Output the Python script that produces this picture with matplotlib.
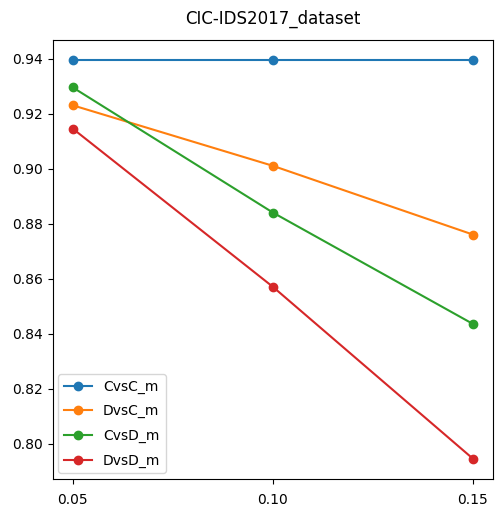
import matplotlib
matplotlib.use('Agg')
import matplotlib.pyplot as plt

ratios = [0.05, 0.10, 0.15]
cvsc_m = [0.9395, 0.9395, 0.9395]
dvsc_m = [0.923, 0.901, 0.876]
cvsd_m = [0.9295, 0.884, 0.8435]
dvsd_m = [0.9145, 0.857, 0.7945]

fig = plt.figure(figsize=(5.03, 5.13), dpi=100)
ax = fig.add_axes([0.105, 0.067, 0.875, 0.855])

# one line per experiment setting, default colour cycle
ax.plot(ratios, cvsc_m, marker='o', label='CvsC_m')
ax.plot(ratios, dvsc_m, marker='o', label='DvsC_m')
ax.plot(ratios, cvsd_m, marker='o', label='CvsD_m')
ax.plot(ratios, dvsd_m, marker='o', label='DvsD_m')

ax.set_xticks(ratios)
ax.tick_params(axis='x', pad=7)
ax.set_title('CIC-IDS2017_dataset', pad=12)
ax.legend(loc='lower left', labelspacing=0.75, borderaxespad=0.4)

plt.savefig('out.png', dpi=100)
